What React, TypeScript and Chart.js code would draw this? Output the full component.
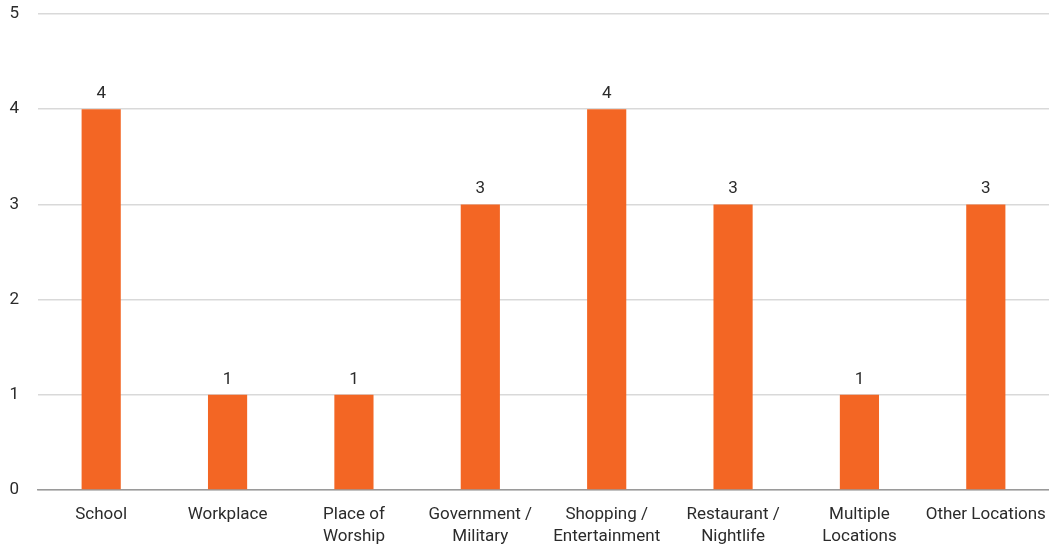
import React, { useEffect, useRef } from "react";
import { Chart, registerables } from "chart.js";

Chart.register(...registerables);

const categories: (string | string[])[] = [
  "School",
  "Workplace",
  ["Place of", "Worship"],
  ["Government /", "Military"],
  ["Shopping /", "Entertainment"],
  ["Restaurant /", "Nightlife"],
  ["Multiple", "Locations"],
  "Other Locations",
];
const counts = [4, 1, 1, 3, 4, 3, 1, 3];
const yTicks = [0, 1, 2, 3, 4, 5];

const FONT = "Roboto, 'DejaVu Sans', sans-serif";
const BAR_COLOR = "#F36624";
const TEXT_COLOR = "#2b2b2b";

const valueLabels = {
  id: "valueLabels",
  afterDatasetsDraw(chart: any) {
    const ctx = chart.ctx;
    const meta = chart.getDatasetMeta(0);
    ctx.save();
    ctx.font = `17px ${FONT}`;
    ctx.fillStyle = TEXT_COLOR;
    ctx.textAlign = "center";
    ctx.textBaseline = "bottom";
    meta.data.forEach((bar: any, i: number) => {
      ctx.fillText(String(counts[i]), bar.x, bar.y - 7);
    });
    ctx.restore();
  },
};

export default function App() {
  const ref = useRef<HTMLCanvasElement | null>(null);
  useEffect(() => {
    if (!ref.current) return;
    const chart = new Chart(ref.current, {
      type: "bar",
      data: {
        labels: categories,
        datasets: [
          {
            data: counts,
            backgroundColor: BAR_COLOR,
            borderWidth: 0,
            barPercentage: 0.62,
            categoryPercentage: 0.5,
          },
        ],
      },
      options: {
        responsive: false,
        animation: false,
        layout: { padding: { left: 0, right: 0, top: 14, bottom: 2 } },
        plugins: { legend: { display: false }, tooltip: { enabled: false } },
        scales: {
          x: {
            afterFit: (scale: any) => {
              scale.paddingLeft = 0;
              scale.paddingRight = 0;
              scale.height = 56;
            },
            grid: { display: false, drawTicks: false },
            border: { display: true, color: "#9a9a9a", width: 1.5 },
            ticks: {
              color: TEXT_COLOR,
              font: { family: FONT, size: 17, lineHeight: "22px" },
              maxRotation: 0,
              autoSkip: false,
              padding: 14,
            },
          },
          y: {
            min: 0,
            max: 5,
            afterBuildTicks: (scale: any) => {
              scale.ticks = yTicks.map((v) => ({ value: v }));
            },
            afterFit: (scale: any) => {
              scale.width = 38;
              scale.paddingTop = 0;
              scale.paddingBottom = 0;
            },
            grid: { color: "#d9d9d9", lineWidth: 1.5, drawTicks: false },
            border: { display: false },
            ticks: {
              color: TEXT_COLOR,
              font: { family: FONT, size: 17 },
              padding: 19,
            },
          },
        },
      },
      plugins: [valueLabels],
    });
    return () => chart.destroy();
  }, []);
  return (
    <div style={{ position: "fixed", left: 0, top: 0, width: 1049, height: 548, background: "#fff" }}>
      <canvas ref={ref} width={1049} height={548} />
    </div>
  );
}
